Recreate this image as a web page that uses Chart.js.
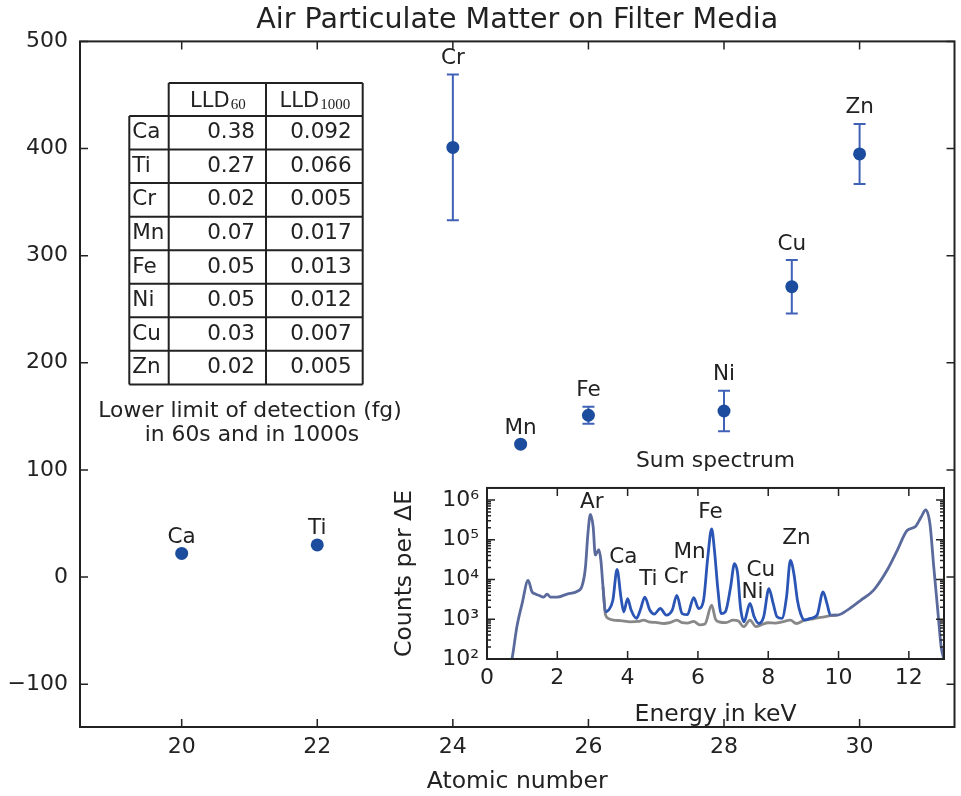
<!DOCTYPE html>
<html>
<head>
<meta charset="utf-8">
<script src="https://cdn.jsdelivr.net/npm/chart.js@4.4.1/dist/chart.umd.min.js"></script>
<style>
html,body{margin:0;padding:0;background:#fff;overflow:hidden;}
#wrap{position:relative;width:961px;height:796px;background:#fff;}
canvas{position:absolute;display:block;}
#main{left:0;top:0;}
#inset{left:380px;top:440px;}
</style>
</head>
<body>
<div id="wrap">
<canvas id="main" width="961" height="796"></canvas>
<canvas id="inset" width="575" height="296"></canvas>
</div>
<script>
// ---------- main chart data ----------
const elements      = ['Ca','Ti','Cr','Mn','Fe','Ni','Cu','Zn'];
const atomicNumbers = [20, 22, 24, 25, 26, 28, 29, 30];
const massFg        = [22, 30, 401, 124, 151, 155, 271, 395];
const massErr       = [0, 0, 68, 0, 8, 19, 25, 28];
const xTicks = [20, 22, 24, 26, 28, 30];
const yTicks = [-100, 0, 100, 200, 300, 400, 500];

// ---------- LLD table ----------
const tableElements = ['Ca','Ti','Cr','Mn','Fe','Ni','Cu','Zn'];
const lld60   = ['0.38','0.27','0.02','0.07','0.05','0.05','0.03','0.02'];
const lld1000 = ['0.092','0.066','0.005','0.017','0.013','0.012','0.007','0.005'];

// ---------- inset: sum spectrum ----------
const sampleEnergy = [0.66,0.71,0.85,1.0,1.17,1.28,1.38,1.47,1.61,1.71,1.80,1.99,2.28,2.56,2.70,2.80,2.87,2.94,3.02,3.08,3.18,3.24,3.30,3.37,3.46,3.58,3.70,3.81,3.89,4.00,4.10,4.25,4.36,4.49,4.63,4.76,4.93,5.10,5.27,5.40,5.55,5.70,5.88,6.02,6.16,6.28,6.39,6.47,6.57,6.66,6.78,6.93,7.04,7.13,7.21,7.31,7.48,7.60,7.73,7.87,8.02,8.14,8.25,8.39,8.52,8.63,8.73,8.83,8.92,9.03,9.20,9.39,9.56,9.67,9.77,9.96,10.25,10.63,11.0,11.38,11.67,11.95,12.19,12.35,12.48,12.60,12.71,12.83,12.92,13.0];
const sampleCounts = [70,100,650,2500,9500,4900,4300,4000,3600,4300,3600,3600,4300,5000,6700,20000,140000,430000,210000,41000,56000,30000,6500,1540,1700,3000,17800,3600,1540,3300,1700,1050,1700,3600,1700,1350,1860,1270,1700,4000,1390,1300,3500,1860,3000,36000,186000,54000,5400,1390,1540,6500,25000,14000,2000,860,2500,1150,780,1150,5900,2500,1150,1050,3600,30000,14000,3000,1390,950,1050,1270,4900,2500,1270,1270,1700,3000,5400,17000,54000,170000,215000,370000,560000,250000,20000,1400,200,95];
const blankEnergy = [3.30,3.37,3.45,3.60,3.80,4.08,4.30,4.46,4.60,4.80,5.03,5.20,5.40,5.55,5.70,5.88,6.05,6.20,6.39,6.50,6.60,6.80,7.00,7.15,7.30,7.48,7.65,7.80,8.00,8.20,8.40,8.63,8.80,9.03,9.20,9.40,9.60,9.77,9.96];
const blankCounts = [6500,1300,1050,950,920,860,880,950,860,830,780,820,950,820,800,880,720,760,2250,1000,860,820,950,900,650,950,650,720,815,800,860,950,780,950,1000,1080,1150,1230,1270];
const energyTicks = [0, 2, 4, 6, 8, 10, 12];
const countTicks  = [1e2, 1e3, 1e4, 1e5, 1e6];
const peakNames       = ['Ar','Ca','Ti','Cr','Mn','Fe','Ni','Cu','Zn'];
const peakLabelEnergy = [2.98, 3.88, 4.59, 5.37, 5.76, 6.36, 7.55, 7.79, 8.80];
const peakLabelCounts = [8.8e5, 3.6e4, 1.0e4, 1.1e4, 4.9e4, 4.9e5, 4.7e3, 1.7e4, 1.05e5];

// ---------- styling ----------
const FONT = "'DejaVu Sans', sans-serif";
const INK = '#222';
const markerColor = '#1b4c9d';
const errColor = '#4062b6';
const blueLine = '#2a55b4';
const mixLine = '#5b6a9c';
const grayLine = '#888888';
Chart.defaults.font.family = FONT;
Chart.defaults.color = INK;

function frameAndTicks(opts) {
  return {
    id: 'frameTicks',
    afterDraw(chart) {
      const {ctx, chartArea: a, scales} = chart;
      ctx.save();
      ctx.strokeStyle = INK;
      ctx.lineWidth = opts.tickWidth;
      ctx.beginPath();
      scales.x.ticks.forEach(t => {
        const p = scales.x.getPixelForValue(t.value);
        ctx.moveTo(p, a.bottom); ctx.lineTo(p, a.bottom - opts.major);
        ctx.moveTo(p, a.top); ctx.lineTo(p, a.top + opts.major);
      });
      scales.y.ticks.forEach(t => {
        const p = scales.y.getPixelForValue(t.value);
        ctx.moveTo(a.left, p); ctx.lineTo(a.left + opts.major, p);
        ctx.moveTo(a.right, p); ctx.lineTo(a.right - opts.major, p);
      });
      if (opts.logMinor) {
        const ys = scales.y;
        for (let k = Math.floor(Math.log10(ys.min)); k <= Math.ceil(Math.log10(ys.max)); k++) {
          for (let m = 2; m <= 9; m++) {
            const v = m * Math.pow(10, k);
            if (v <= ys.min || v >= ys.max) continue;
            const p = ys.getPixelForValue(v);
            ctx.moveTo(a.left, p); ctx.lineTo(a.left + opts.minor, p);
            ctx.moveTo(a.right, p); ctx.lineTo(a.right - opts.minor, p);
          }
        }
      }
      ctx.stroke();
      ctx.lineWidth = opts.frameWidth;
      ctx.strokeRect(a.left, a.top, a.right - a.left, a.bottom - a.top);
      ctx.restore();
    }
  };
}

const errorBarPlugin = {
  id: 'errorBars',
  beforeDatasetsDraw(chart) {
    const {ctx, scales: {x, y}} = chart;
    ctx.save();
    ctx.strokeStyle = errColor;
    ctx.lineWidth = 2;
    atomicNumbers.forEach((a, i) => {
      const e = massErr[i];
      if (!e) return;
      const px = x.getPixelForValue(a);
      const yt = y.getPixelForValue(massFg[i] + e);
      const yb = y.getPixelForValue(massFg[i] - e);
      ctx.beginPath();
      ctx.moveTo(px, yt); ctx.lineTo(px, yb);
      ctx.moveTo(px - 6, yt); ctx.lineTo(px + 6, yt);
      ctx.moveTo(px - 6, yb); ctx.lineTo(px + 6, yb);
      ctx.stroke();
    });
    ctx.restore();
  }
};

const pointLabelPlugin = {
  id: 'pointLabels',
  afterDatasetsDraw(chart) {
    const {ctx, scales: {x, y}} = chart;
    ctx.save();
    ctx.fillStyle = INK;
    ctx.font = '21.5px ' + FONT;
    ctx.textAlign = 'center';
    ctx.textBaseline = 'middle';
    elements.forEach((el, i) => {
      const px = x.getPixelForValue(atomicNumbers[i]);
      const py = y.getPixelForValue(massFg[i] + massErr[i]) - 16;
      ctx.fillText(el, px, py);
    });
    ctx.restore();
  }
};

const tablePlugin = {
  id: 'lldTable',
  afterDraw(chart) {
    const ctx = chart.ctx;
    const cx = [129.3, 168.7, 266, 362.7];
    const top = 83, headH = 33, rowH = 33.55;
    const n = tableElements.length;
    const bottom = top + headH + n * rowH;
    ctx.save();
    ctx.strokeStyle = INK;
    ctx.lineWidth = 2;
    ctx.beginPath();
    ctx.moveTo(cx[1], top); ctx.lineTo(cx[3], top);
    for (let i = 0; i <= n; i++) {
      const yy = top + headH + i * rowH;
      ctx.moveTo(cx[0], yy); ctx.lineTo(cx[3], yy);
    }
    ctx.moveTo(cx[0], top + headH); ctx.lineTo(cx[0], bottom);
    for (let j = 1; j < 4; j++) { ctx.moveTo(cx[j], top); ctx.lineTo(cx[j], bottom); }
    ctx.stroke();
    ctx.fillStyle = INK;
    const heads = [['LLD', '60'], ['LLD', '1000']];
    heads.forEach((h, j) => {
      const mainFont = '21px ' + FONT;
      const subFont = '15px "Liberation Serif", serif';
      ctx.font = mainFont; const w1 = ctx.measureText(h[0]).width;
      ctx.font = subFont; const w2 = ctx.measureText(h[1]).width;
      const c = (cx[j + 1] + cx[j + 2]) / 2;
      const x0 = c - (w1 + w2) / 2;
      ctx.textAlign = 'left'; ctx.textBaseline = 'alphabetic';
      ctx.font = mainFont; ctx.fillText(h[0], x0, 106.5);
      ctx.font = subFont; ctx.fillText(h[1], x0 + w1 + 1, 108.5);
    });
    ctx.font = '21.5px ' + FONT;
    ctx.textBaseline = 'middle';
    tableElements.forEach((el, i) => {
      const yc = top + headH + (i + 0.5) * rowH;
      ctx.textAlign = 'left';
      ctx.fillText(el, cx[0] + 3, yc);
      ctx.textAlign = 'right';
      ctx.fillText(lld60[i], cx[2] - 11, yc);
      ctx.fillText(lld1000[i], cx[3] - 11, yc);
    });
    ctx.font = '21.8px ' + FONT;
    ctx.textAlign = 'center';
    ctx.fillText('Lower limit of detection (fg)', 250, 411);
    ctx.fillText('in 60s and in 1000s', 252, 435);
    ctx.restore();
  }
};

new Chart(document.getElementById('main'), {
  type: 'scatter',
  data: {
    datasets: [{
      data: atomicNumbers.map((a, i) => ({x: a, y: massFg[i]})),
      pointRadius: 6.5,
      pointBackgroundColor: markerColor,
      pointBorderWidth: 0,
      borderColor: markerColor
    }]
  },
  options: {
    responsive: false,
    animation: false,
    events: [],
    layout: {padding: {left: 0, right: 1, top: 0, bottom: 0}},
    plugins: {
      legend: {display: false},
      tooltip: {enabled: false},
      title: {
        display: true,
        text: 'Air Particulate Matter on Filter Media',
        fullSize: false,
        color: INK,
        font: {family: FONT, size: 28.5, weight: 'normal'},
        padding: {top: 3.7, bottom: 3.5}
      }
    },
    scales: {
      x: {
        type: 'linear', min: 18.5, max: 31.4,
        afterBuildTicks: s => { s.ticks = xTicks.map(v => ({value: v})); },
        afterFit: s => { s.height = 69; },
        grid: {display: false, drawTicks: false},
        border: {display: false},
        ticks: {font: {size: 22}, padding: 7, color: INK},
        title: {display: true, text: 'Atomic number', font: {size: 23.5}, color: INK, padding: {top: 0, bottom: 0}}
      },
      y: {
        type: 'linear', min: -140, max: 500,
        afterBuildTicks: s => { s.ticks = yTicks.map(v => ({value: v})); },
        afterFit: s => { s.width = 80; },
        grid: {display: false, drawTicks: false},
        border: {display: false},
        ticks: {font: {size: 22}, padding: 12, color: INK,
          callback: v => v < 0 ? '\u2212' + Math.abs(v) : String(v)}
      }
    }
  },
  plugins: [errorBarPlugin, pointLabelPlugin, tablePlugin, frameAndTicks({major: 8, minor: 0, tickWidth: 1.5, frameWidth: 2, logMinor: false})]
});

const SUP = {'0':'\u2070','1':'\u00b9','2':'\u00b2','3':'\u00b3','4':'\u2074','5':'\u2075','6':'\u2076','7':'\u2077','8':'\u2078','9':'\u2079','-':'\u207b'};

const peakLabelPlugin = {
  id: 'peakLabels',
  afterDatasetsDraw(chart) {
    const {ctx, scales: {x, y}} = chart;
    ctx.save();
    ctx.fillStyle = INK;
    ctx.font = '21.5px ' + FONT;
    ctx.textAlign = 'center';
    ctx.textBaseline = 'middle';
    peakNames.forEach((n, i) => {
      ctx.fillText(n, x.getPixelForValue(peakLabelEnergy[i]), y.getPixelForValue(peakLabelCounts[i]));
    });
    ctx.restore();
  }
};

new Chart(document.getElementById('inset'), {
  type: 'scatter',
  data: {
    datasets: [
      {
        data: sampleEnergy.map((e, i) => ({x: e, y: sampleCounts[i]})),
        showLine: true, pointRadius: 0, borderWidth: 2.8,
        borderColor: blueLine,
        cubicInterpolationMode: 'monotone',
        segment: {
          borderColor: c => (c.p1.parsed.x <= 3.37 || c.p0.parsed.x >= 9.77) ? mixLine : blueLine
        }
      },
      {
        data: blankEnergy.map((e, i) => ({x: e, y: blankCounts[i]})),
        showLine: true, pointRadius: 0, borderWidth: 2.8,
        borderColor: grayLine,
        cubicInterpolationMode: 'monotone'
      }
    ]
  },
  options: {
    responsive: false,
    animation: false,
    events: [],
    layout: {padding: {left: 0, right: 11, top: 0, bottom: 0}},
    plugins: {
      legend: {display: false},
      tooltip: {enabled: false},
      title: {
        display: true,
        text: 'Sum spectrum',
        fullSize: false,
        color: INK,
        font: {family: FONT, size: 21.8, weight: 'normal'},
        padding: {top: 8.6, bottom: 13.2}
      }
    },
    scales: {
      x: {
        type: 'linear', min: 0, max: 13,
        afterBuildTicks: s => { s.ticks = energyTicks.map(v => ({value: v})); },
        afterFit: s => { s.height = 77; },
        grid: {display: false, drawTicks: false},
        border: {display: false},
        ticks: {font: {size: 22}, padding: 6, color: INK},
        title: {display: true, text: 'Energy in keV', font: {size: 23.5}, color: INK, padding: {top: 0, bottom: 6.9}}
      },
      y: {
        type: 'logarithmic', min: 100, max: 2e6,
        afterBuildTicks: s => { s.ticks = countTicks.map(v => ({value: v})); },
        afterFit: s => { s.width = 107; },
        grid: {display: false, drawTicks: false},
        border: {display: false},
        ticks: {font: {size: 22}, padding: 8, color: INK,
          callback: v => '10' + String(Math.round(Math.log10(v))).split('').map(d => SUP[d]).join('')},
        title: {display: true, text: 'Counts per \u0394E', font: {size: 23.5}, color: INK, padding: {top: 10.9, bottom: 0}}
      }
    }
  },
  plugins: [peakLabelPlugin, frameAndTicks({major: 8, minor: 4, tickWidth: 1.5, frameWidth: 2, logMinor: true})]
});
</script>
</body>
</html>
